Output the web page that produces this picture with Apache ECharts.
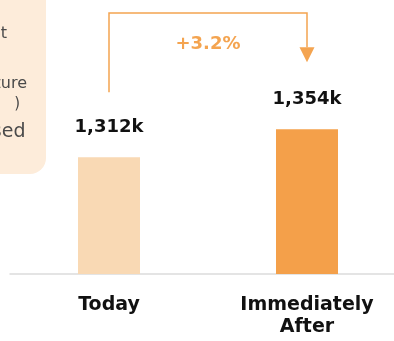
<!DOCTYPE html>
<html>
<head>
<meta charset="utf-8">
<script src="https://cdn.jsdelivr.net/npm/echarts@6/dist/echarts.min.js"></script>
<style>
html,body{margin:0;padding:0;background:#fff;}
#chart{width:394px;height:341px;}
</style>
</head>
<body>
<div id="chart"></div>
<script>
const categories = ['Today', 'Immediately\nAfter'];
const values = [1312, 1354];
const valueLabels = ['1,312k', '1,354k'];
const changeLabel = '+3.2%';
const noteLines = ['that', 'and', 'expenditure', ')', 'used'];

const barColors = ['#f9d9b4', '#f4a04a'];
const accent = '#f4a450';

const chart = echarts.init(document.getElementById('chart'), null, {renderer: 'canvas'});

const option = {
  animation: false,
  grid: {left: 10, width: 396, top: 0, bottom: 67, outerBoundsMode: 'none', containLabel: false},
  xAxis: {
    type: 'category',
    data: categories,
    axisLine: {show: true, lineStyle: {color: '#dcdcdc', width: 1.5}},
    axisTick: {show: false},
    axisLabel: {
      margin: 20,
      color: '#111',
      fontFamily: 'DejaVu Sans',
      fontWeight: 'bold',
      fontSize: 19,
      lineHeight: 22
    }
  },
  yAxis: {
    type: 'value',
    min: 1137,
    max: 1548,
    show: false,
    splitLine: {show: false}
  },
  series: [{
    type: 'bar',
    barWidth: 62,
    data: values.map((v, i) => ({value: v, itemStyle: {color: barColors[i]}})),
    label: {
      show: true,
      position: 'top',
      distance: 21,
      color: '#111',
      fontFamily: 'DejaVu Sans',
      fontWeight: 'bold',
      fontSize: 18,
      formatter: p => valueLabels[p.dataIndex]
    }
  }]
};
chart.setOption(option);

function drawOverlay() {
  const p0 = chart.convertToPixel({xAxisIndex: 0, yAxisIndex: 0}, [0, values[0]]);
  const p1 = chart.convertToPixel({xAxisIndex: 0, yAxisIndex: 0}, [1, values[1]]);
  const topY = 13;
  const leftBottom = p0[1] - 65;
  const arrowTip = p1[1] - 67;
  const arrowH = 15, arrowW = 15;
  const lineX = [7, 0, 27, 20, 25.5];
  const lineY = [34, 59, 84, 104, 132];
  const lineSize = [16, 16, 16, 15, 19];
  const boxTexts = noteLines.map((t, i) => ({
    type: 'text',
    style: {
      text: t,
      x: lineX[i],
      y: lineY[i],
      align: 'right',
      verticalAlign: 'middle',
      fill: '#4a4a4a',
      font: lineSize[i] + 'px "DejaVu Sans"'
    },
    z: 11
  }));
  chart.setOption({
    graphic: [
      {
        type: 'rect',
        shape: {x: -30, y: -30, width: 76, height: 204, r: [0, 16, 16, 0]},
        style: {fill: '#fdecda'},
        z: 10
      },
      ...boxTexts,
      {
        type: 'polyline',
        shape: {points: [[p0[0], leftBottom], [p0[0], topY], [p1[0], topY], [p1[0], arrowTip - arrowH]]},
        style: {stroke: accent, lineWidth: 1.5, fill: null},
        z: 10
      },
      {
        type: 'polygon',
        shape: {points: [[p1[0] - arrowW / 2, arrowTip - arrowH], [p1[0] + arrowW / 2, arrowTip - arrowH], [p1[0], arrowTip]]},
        style: {fill: accent},
        z: 10
      },
      {
        type: 'text',
        style: {
          text: changeLabel,
          x: (p0[0] + p1[0]) / 2,
          y: 44,
          align: 'center',
          verticalAlign: 'middle',
          fill: accent,
          font: 'bold 18px "DejaVu Sans"'
        },
        z: 10
      }
    ]
  });
}
drawOverlay();
</script>
</body>
</html>
